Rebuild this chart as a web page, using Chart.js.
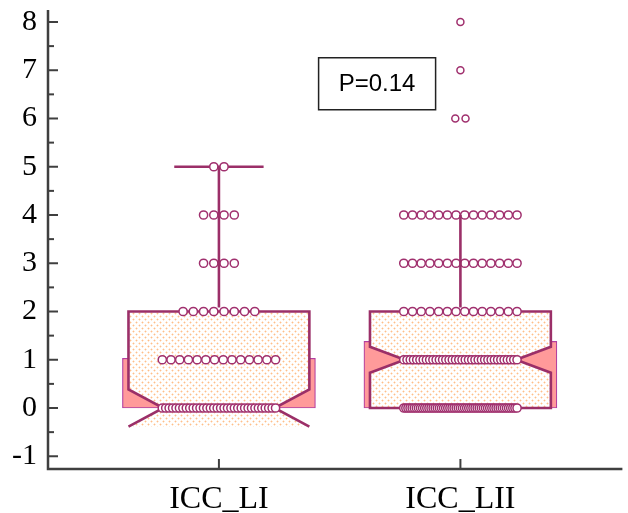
<!DOCTYPE html>
<html>
<head>
<meta charset="utf-8">
<script src="https://cdn.jsdelivr.net/npm/chart.js@4.4.1/dist/chart.umd.min.js"></script>
<style>
  html, body { margin: 0; padding: 0; background: #ffffff; }
  canvas { display: block; }
</style>
</head>
<body>
<canvas id="chart" width="628" height="513"></canvas>
<script>
// ---- data: observed values (level) and how many cases sit at each level ----
const categories = ['ICC_LI', 'ICC_LII'];
const levelsLI  = [0, 1, 2, 3, 4, 5];
const countsLI  = [34, 14, 8, 4, 4, 2];
const levelsLII = [0, 1, 2, 3, 4, 6, 7, 8];
const countsLII = [55, 36, 14, 14, 14, 2, 1, 1];
const yTicks = [-1, 0, 1, 2, 3, 4, 5, 6, 7, 8];
const pLabel = 'P=0.14';

// ---- styling / layout constants ----
const BOX_HALF = 0.3745;      // half box width, x units
const NOTCH_INNER = 0.615;    // notch waist as fraction of box half width
const CAP_HALF = 0.185;       // whisker cap half width
const DOT_STEP = 0.0424;      // preferred horizontal gap between equal values
const MAX_SPREAD = 0.469;     // widest a row of equal values may spread
const OUTLINE = '#9b2f68';
const DOT_EDGE = '#a0306e';
const AXIS = '#3f3f3f';

function expand(levels, counts) {
  const out = [];
  levels.forEach((v, i) => { for (let k = 0; k < counts[i]; k++) out.push(v); });
  return out.sort((a, b) => a - b);
}
function quantile(sorted, p) {
  const pos = (sorted.length - 1) * p;
  const lo = Math.floor(pos), hi = Math.ceil(pos);
  return sorted[lo] + (sorted[hi] - sorted[lo]) * (pos - lo);
}
function summarize(levels, counts) {
  const s = expand(levels, counts);
  const n = s.length;
  const q1 = quantile(s, 0.25), med = quantile(s, 0.5), q3 = quantile(s, 0.75);
  const iqr = q3 - q1;
  const hiFence = q3 + 1.5 * iqr, loFence = q1 - 1.5 * iqr;
  const whiskHi = Math.max(...s.filter(v => v <= hiFence));
  const whiskLo = Math.min(...s.filter(v => v >= loFence));
  const notch = 1.57 * iqr / Math.sqrt(n);
  const mean = s.reduce((a, b) => a + b, 0) / n;
  return { n, q1, med, q3, whiskHi, whiskLo, nlo: med - notch, nhi: med + notch, mean };
}

const groups = [
  { levels: levelsLI, counts: countsLI },
  { levels: levelsLII, counts: countsLII }
];
const stats = groups.map(g => summarize(g.levels, g.counts));

// individual observations, equal values spread side by side
const dotPoints = [];
groups.forEach((g, gi) => {
  const cx = gi + 1;
  g.levels.forEach((v, li) => {
    const k = g.counts[li];
    const step = k > 1 ? Math.min(DOT_STEP, MAX_SPREAD / (k - 1)) : 0;
    for (let j = 0; j < k; j++) {
      const outlier = v > stats[gi].whiskHi || v < stats[gi].whiskLo;
      dotPoints.push({ x: cx + (j - (k - 1) / 2) * step, y: v, outlier });
    }
  });
});

const meanBars = stats.map((s, i) => ({ x: i + 1, y: s.mean }));

function makePattern(ctx) {
  const c = document.createElement('canvas');
  c.width = 6; c.height = 6;
  const p = c.getContext('2d');
  p.fillStyle = '#ffffff';
  p.fillRect(0, 0, 6, 6);
  p.fillStyle = 'rgba(255,200,150,0.45)';
  [[1, 1], [4, 4]].forEach(([x, y]) => {
    p.fillRect(x - 1, y, 3, 1);
    p.fillRect(x, y - 1, 1, 3);
  });
  p.fillStyle = 'rgba(255,180,120,0.7)';
  p.fillRect(1, 1, 1, 1);
  p.fillRect(4, 4, 1, 1);
  return ctx.createPattern(c, 'repeat');
}

const boxPlugin = {
  id: 'notchedBoxes',
  afterDatasetDraw(chart, args) {
    if (args.index !== 0) return;          // right after the mean bars
    const { ctx, scales: { x, y } } = chart;
    const pattern = makePattern(ctx);
    stats.forEach((s, i) => {
      const cx = i + 1;
      const L = x.getPixelForValue(cx - BOX_HALF), R = x.getPixelForValue(cx + BOX_HALF);
      const Li = x.getPixelForValue(cx - BOX_HALF * NOTCH_INNER), Ri = x.getPixelForValue(cx + BOX_HALF * NOTCH_INNER);
      const yq1 = y.getPixelForValue(s.q1), yq3 = y.getPixelForValue(s.q3);
      const ym = y.getPixelForValue(s.med);
      const ynhi = y.getPixelForValue(s.nhi);
      const ynlo = y.getPixelForValue(s.nlo);
      const closedBottom = s.q1 <= s.nlo;

      const pts = [[L, ynlo], [Li, ym], [L, ynhi], [L, yq3], [R, yq3], [R, ynhi], [Ri, ym], [R, ynlo]];
      if (closedBottom) { pts.push([R, yq1], [L, yq1]); }

      ctx.save();
      ctx.beginPath();
      pts.forEach(([px, py], k) => k ? ctx.lineTo(px, py) : ctx.moveTo(px, py));
      ctx.closePath();
      ctx.fillStyle = pattern;
      ctx.fill();

      ctx.beginPath();
      pts.forEach(([px, py], k) => k ? ctx.lineTo(px, py) : ctx.moveTo(px, py));
      if (closedBottom) ctx.closePath();
      ctx.strokeStyle = OUTLINE;
      ctx.lineWidth = 2.6;
      ctx.lineJoin = 'miter';
      ctx.stroke();

      // whisker caps
      const cL = x.getPixelForValue(cx - CAP_HALF), cR = x.getPixelForValue(cx + CAP_HALF);
      if (s.whiskHi > s.q3) {
        const yw = y.getPixelForValue(s.whiskHi);
        ctx.beginPath(); ctx.moveTo(cL, yw); ctx.lineTo(cR, yw); ctx.stroke();
      }
      if (s.whiskLo < s.q1) {
        const yw = y.getPixelForValue(s.whiskLo);
        ctx.beginPath(); ctx.moveTo(cL, yw); ctx.lineTo(cR, yw); ctx.stroke();
      }
      ctx.restore();
    });
  },
  afterDatasetsDraw(chart) {
    const { ctx, chartArea: a, scales: { x, y } } = chart;
    ctx.save();
    // whisker stems
    ctx.strokeStyle = OUTLINE;
    ctx.lineWidth = 2.6;
    stats.forEach((s, i) => {
      const px = x.getPixelForValue(i + 1);
      if (s.whiskHi > s.q3) {
        ctx.beginPath();
        ctx.moveTo(px, y.getPixelForValue(s.q3) - 4);
        ctx.lineTo(px, y.getPixelForValue(s.whiskHi));
        ctx.stroke();
      }
      if (s.whiskLo < s.q1) {
        ctx.beginPath();
        ctx.moveTo(px, y.getPixelForValue(s.q1) + 4);
        ctx.lineTo(px, y.getPixelForValue(s.whiskLo));
        ctx.stroke();
      }
    });

    // axes with inward tick marks
    ctx.strokeStyle = AXIS;
    ctx.lineWidth = 2.5;
    ctx.beginPath();
    ctx.moveTo(a.left, a.top - 2);
    ctx.lineTo(a.left, a.bottom);
    ctx.lineTo(a.right, a.bottom);
    ctx.stroke();
    ctx.lineWidth = 2;
    yTicks.forEach(v => {
      const py = y.getPixelForValue(v);
      ctx.beginPath(); ctx.moveTo(a.left, py); ctx.lineTo(a.left + 10, py); ctx.stroke();
      const ph = y.getPixelForValue(v + 0.5);
      if (v + 0.5 < y.max) {
        ctx.beginPath(); ctx.moveTo(a.left, ph); ctx.lineTo(a.left + 6, ph); ctx.stroke();
      }
    });
    categories.forEach((c, i) => {
      const px = x.getPixelForValue(i + 1);
      ctx.beginPath(); ctx.moveTo(px, a.bottom); ctx.lineTo(px, a.bottom - 10); ctx.stroke();
    });

    // test result label
    const bx = x.getPixelForValue(1.655), by = y.getPixelForValue(6.72);
    const bw = 117, bh = 52;
    ctx.fillStyle = '#ffffff';
    ctx.fillRect(bx - bw / 2, by - bh / 2, bw, bh);
    ctx.strokeStyle = '#222222';
    ctx.lineWidth = 1.5;
    ctx.strokeRect(bx - bw / 2, by - bh / 2, bw, bh);
    ctx.fillStyle = '#000000';
    ctx.font = '24px "Liberation Sans", Arial, sans-serif';
    ctx.textAlign = 'center';
    ctx.textBaseline = 'middle';
    ctx.fillText(pLabel, bx, by + 1);
    ctx.restore();
  }
};

new Chart(document.getElementById('chart'), {
  type: 'scatter',
  data: {
    datasets: [
      {
        type: 'bar',
        data: meanBars,
        backgroundColor: '#ff9a9a',
        borderColor: '#b23fa0',
        borderWidth: 1.2,
        borderSkipped: false,
        barThickness: 193,
        order: 2
      },
      {
        type: 'scatter',
        data: dotPoints,
        pointRadius: ctx => (ctx.raw && ctx.raw.outlier ? 3.5 : 4.1),
        pointBorderWidth: 1.5,
        pointBackgroundColor: '#ffffff',
        pointBorderColor: DOT_EDGE,
        pointHoverRadius: 4.1,
        order: 1
      }
    ]
  },
  options: {
    responsive: false,
    animation: false,
    devicePixelRatio: 1,
    layout: { padding: { top: 12, right: 2, left: 0, bottom: 0 } },
    plugins: { legend: { display: false }, tooltip: { enabled: false } },
    scales: {
      x: {
        type: 'linear',
        offset: false,
        min: 0.2922,
        max: 2.6708,
        grid: { display: false, drawTicks: false, offset: false },
        border: { display: false },
        afterBuildTicks: s => { s.ticks = categories.map((_, i) => ({ value: i + 1 })); },
        afterFit: s => { s.height = 44; s.paddingLeft = 0; s.paddingRight = 0; },
        ticks: {
          padding: 11,
          color: '#000000',
          font: { family: '"Liberation Serif", "Times New Roman", serif', size: 32 },
          callback: v => categories[v - 1],
          autoSkip: false,
          maxRotation: 0
        }
      },
      y: {
        type: 'linear',
        min: -1.264,
        max: 8.207,
        grid: { display: false, drawTicks: false },
        border: { display: false },
        afterBuildTicks: s => { s.ticks = yTicks.map(v => ({ value: v })); },
        afterFit: s => { s.width = 48; s.paddingTop = 0; s.paddingBottom = 0; },
        ticks: {
          padding: 11,
          color: '#000000',
          font: { family: '"Liberation Serif", "Times New Roman", serif', size: 30 },
          callback: v => String(v),
          autoSkip: false
        }
      }
    }
  },
  plugins: [boxPlugin]
});
</script>
</body>
</html>
